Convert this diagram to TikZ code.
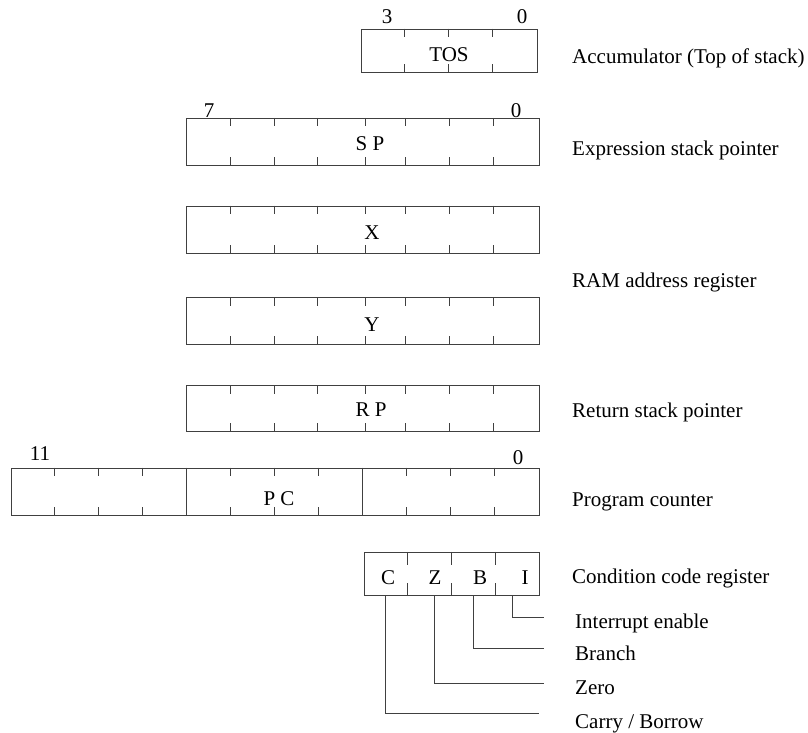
\documentclass[tikz,border=0pt]{standalone}
\usepackage{fontspec}
\setmainfont{Liberation Serif}
\definecolor{linec}{gray}{0.25}
\begin{document}
\begin{tikzpicture}[x=1pt,y=-1pt,
  font=\fontsize{21}{25}\selectfont,
  reg/.style={draw=linec, rectangle, inner sep=0pt, line width=0.9pt},
  tick/.style={draw=linec, line width=0.9pt},
  divline/.style={draw=linec, line width=1.15pt},
  leader/.style={draw=linec, line width=0.9pt},
  lbl/.style={anchor=base west, inner sep=0pt},
  nm/.style={anchor=base, inner sep=0pt},
  bitno/.style={anchor=base, inner sep=0pt}]
\useasboundingbox (0,0) rectangle (808,732);

% ---------- TOS ----------
\node[reg, minimum width=176pt, minimum height=43.5pt] (tos) at (449,50.7) {};
\foreach \o in {44,88,132} {
  \draw[tick] ([xshift=\o pt]tos.north west) -- ++(0,8.5);
  \draw[tick] ([xshift=\o pt]tos.south west) -- ++(0,-8.5);
}
\node[nm] (tosname) at (449,61.5) {TOS};
\node[bitno] (tos3) at (387,23) {3};
\node[bitno] (tos0) at (522,23) {0};
\node[lbl] (tosl) at (572,63) {Accumulator (Top of stack)};

% ---------- 8-bit registers ----------
\node[reg, minimum width=353pt, minimum height=47pt] (sp) at (362.5,141.8) {};
\node[reg, minimum width=353pt, minimum height=47pt] (xr) at (362.5,229.5) {};
\node[reg, minimum width=353pt, minimum height=47pt] (yr) at (362.5,321) {};
\node[reg, minimum width=353pt, minimum height=46pt] (rp) at (362.5,408.5) {};
\foreach \r in {sp,xr,yr,rp} {
  \foreach \o in {45,89,132,180,220,264,308} {
    \draw[tick] ([xshift=\o pt]\r.north west) -- ++(0,8.5);
    \draw[tick] ([xshift=\o pt]\r.south west) -- ++(0,-8.5);
  }
}
\node[nm] (spname) at (370,150.5) {S P};
\node[nm] (xname) at (372,239.3) {X};
\node[nm] (yname) at (372,331.3) {Y};
\node[nm] (rpname) at (371,416.8) {R P};
\node[bitno] (sp7) at (209,117) {7};
\node[bitno] (sp0) at (516,117) {0};
\node[lbl] (spl) at (572,155.5) {Expression stack pointer};
\node[lbl] (raml) at (572,287) {RAM address register};
\node[lbl] (rpl) at (572,417) {Return stack pointer};

% ---------- PC ----------
\node[reg, minimum width=528pt, minimum height=47pt] (pc) at (275,491.6) {};
\foreach \o in {44,88,132,220,264,308,396,440,484} {
  \draw[tick] ([xshift=\o pt]pc.north west) -- ++(0,8.5);
  \draw[tick] ([xshift=\o pt]pc.south west) -- ++(0,-8.5);
}
\foreach \o in {176,352} {
  \draw[divline] ([xshift=\o pt]pc.north west) -- ([xshift=\o pt]pc.south west);
}
\node[nm] (pcname) at (279,505) {P C};
\node[bitno] (pc11) at (40,460) {11};
\node[bitno] (pc0) at (518,464) {0};
\node[lbl] (pcl) at (572,506.5) {Program counter};

% ---------- CCR ----------
\node[reg, minimum width=175pt, minimum height=43.5pt] (ccr) at (451.5,574) {};
\foreach \o in {44,88,132} {
  \draw[tick] ([xshift=\o pt]ccr.north west) -- ++(0,13.5);
  \draw[tick] ([xshift=\o pt]ccr.south west) -- ++(0,-13);
}
\node[nm] (cc) at (388,584.5) {C};
\node[nm] (cz) at (435,584.5) {Z};
\node[nm] (cb) at (480,584.5) {B};
\node[nm] (ci) at (525,584.5) {I};
\node[lbl] (ccrl) at (572,583.6) {Condition code register};

\coordinate (iend) at (544,617.6);
\coordinate (bend) at (544,648);
\coordinate (zend) at (544,683);
\coordinate (cend) at (539,713.5);
\draw[leader] ([xshift=149pt]ccr.south west) |- (iend);
\draw[leader] ([xshift=110pt]ccr.south west) |- (bend);
\draw[leader] ([xshift=70.5pt]ccr.south west) |- (zend);
\draw[leader] ([xshift=22pt]ccr.south west) |- (cend);

\node[lbl] (il) at (575,628) {Interrupt enable};
\node[lbl] (bl) at (575,660.6) {Branch};
\node[lbl] (zl) at (575,694.6) {Zero};
\node[lbl] (cl) at (575,728) {Carry / Borrow};
\end{tikzpicture}
\end{document}
